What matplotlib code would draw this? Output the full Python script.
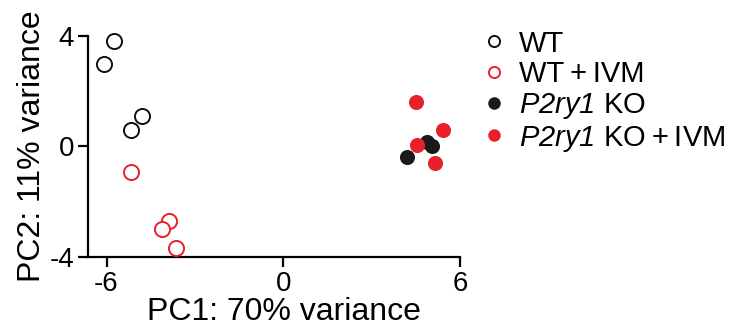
import numpy as np
import matplotlib
matplotlib.use("Agg")
import matplotlib.pyplot as plt
from matplotlib.lines import Line2D

plt.rcParams['font.family'] = ['Liberation Sans', 'DejaVu Sans']
plt.rcParams['axes.unicode_minus'] = False
plt.rcParams['mathtext.fontset'] = 'custom'
plt.rcParams['mathtext.rm'] = 'Liberation Sans:italic'
plt.rcParams['mathtext.it'] = 'Liberation Sans:italic'

# PCA scores
wt_pc1 = [-6.1, -5.75, -5.17, -4.8]
wt_pc2 = [3.0, 3.8, 0.59, 1.1]
wt_ivm_pc1 = [-5.17, -3.88, -4.12, -3.65]
wt_ivm_pc2 = [-0.93, -2.7, -2.99, -3.68]
ko_pc1 = [4.19, 4.87, 5.04]
ko_pc2 = [-0.37, 0.15, 0.03]
ko_ivm_pc1 = [4.49, 5.43, 4.53, 5.15]
ko_ivm_pc2 = [1.62, 0.59, 0.05, -0.61]

labels = ['WT', 'WT\u2009+\u2009IVM', '$P2ry1$ KO', '$P2ry1$ KO\u2009+\u2009IVM']
red = '#e8202a'

fig = plt.figure(figsize=(7.35, 3.27), dpi=100)
ax = fig.add_axes([0.1197, 0.214, 0.5063, 0.676])

ms = 118
ax.scatter(wt_pc1, wt_pc2, s=ms, facecolors='white', edgecolors='#111111', linewidths=1.4, zorder=3, clip_on=False)
ax.scatter(wt_ivm_pc1, wt_ivm_pc2, s=ms, facecolors='white', edgecolors=red, linewidths=1.4, zorder=3, clip_on=False)
ax.scatter(ko_pc1, ko_pc2, s=ms, color='#1a1a1a', linewidths=0, zorder=3, clip_on=False)
ax.scatter(ko_ivm_pc1, ko_ivm_pc2, s=ms, color=red, linewidths=0, zorder=4, clip_on=False)

ax.set_xlim(-6.63, 6)
ax.set_ylim(-4, 4)
ax.set_xticks([-6, 0, 6])
ax.set_yticks([-4, 0, 4])
ax.spines['top'].set_visible(False)
ax.spines['right'].set_visible(False)
for s in ['left', 'bottom']:
    ax.spines[s].set_linewidth(1.6)
ax.tick_params(width=1.6, length=7, labelsize=20, pad=3)
ax.set_xlabel('PC1: 70% variance', fontsize=23, labelpad=0)
ax.xaxis.set_label_coords(0.527, -0.183)
ax.set_ylabel('PC2: 11% variance', fontsize=23, labelpad=2)

handles = [
    Line2D([], [], ls='', marker='o', ms=8, mfc='white', mec='#111111', mew=1.4),
    Line2D([], [], ls='', marker='o', ms=8, mfc='white', mec=red, mew=1.4),
    Line2D([], [], ls='', marker='o', ms=9, mfc='#1a1a1a', mec='#1a1a1a', mew=0),
    Line2D([], [], ls='', marker='o', ms=9, mfc=red, mec=red, mew=0),
]
fig.legend(handles, labels, loc='upper left', bbox_to_anchor=(0.645, 0.945),
           frameon=False, fontsize=21, handlelength=0.6, handletextpad=0.55,
           labelspacing=0.09, borderaxespad=0)

fig.savefig('out.png', dpi=100)
